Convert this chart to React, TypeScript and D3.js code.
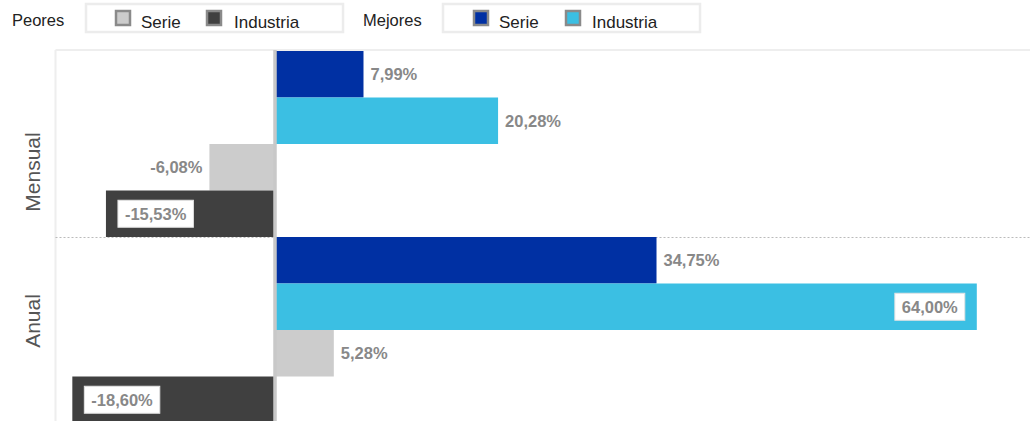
import React from "react";
import * as d3 from "d3";

const categories = ["Mensual", "Anual"];
const seriesKeys = ["mejorSerie", "mejorIndustria", "peorSerie", "peorIndustria"];
const mejoresSerie = [7.99, 34.75];
const mejoresIndustria = [20.28, 64.0];
const peoresSerie = [-6.08, 5.28];
const peoresIndustria = [-15.53, -18.6];
const xDomain = [-20, 70];

const legendGroups = [
  { title: "Peores", items: [{ label: "Serie", key: "peorSerie" }, { label: "Industria", key: "peorIndustria" }] },
  { title: "Mejores", items: [{ label: "Serie", key: "mejorSerie" }, { label: "Industria", key: "mejorIndustria" }] },
];

const COLORS: Record<string, string> = {
  mejorSerie: "#0030a3",
  mejorIndustria: "#3bbfe3",
  peorSerie: "#cccccc",
  peorIndustria: "#404040",
};

const W = 1030;
const H = 421;
const PLOT_LEFT = 55.5;
const PLOT_TOP = 50;
const LABEL_SIZE = 16.5;
const LABEL_FONT = `bold ${LABEL_SIZE}px 'Liberation Sans', Arial, sans-serif`;

function measure(text: string, font: string): number {
  if (typeof document === "undefined") return text.length * 9;
  const c = document.createElement("canvas");
  const ctx = c.getContext("2d")!;
  ctx.font = font;
  return ctx.measureText(text).width;
}

const fmt = (v: number) => v.toFixed(2).replace(".", ",") + "%";

export default function App() {
  const x = d3.scaleLinear().domain(xDomain).range([57, 1042.5]);
  const y0 = d3.scaleBand<string>().domain(categories).range([51, 423]).paddingInner(0);
  const y1 = d3.scaleBand<string>().domain(seriesKeys).range([0, y0.bandwidth()]);

  const values: Record<string, number[]> = {
    mejorSerie: mejoresSerie,
    mejorIndustria: mejoresIndustria,
    peorSerie: peoresSerie,
    peorIndustria: peoresIndustria,
  };

  const bars: any[] = [];
  categories.forEach((cat, ci) => {
    seriesKeys.forEach((k) => {
      const v = values[k][ci];
      const yy = (y0(cat) as number) + (y1(k) as number);
      bars.push({ cat, k, v, y: yy, h: y1.bandwidth() });
    });
  });

  const labelOffsets = [28, -9];

  const legendBoxes = [
    { titleX: 12, boxX: 86, boxW: 257, itemX: [116, 207], textX: [141, 234] },
    { titleX: 363, boxX: 443, boxW: 257, itemX: [474, 566], textX: [499, 592] },
  ];

  return (
    <svg
      width={W}
      height={H}
      style={{ position: "absolute", left: 0, top: 0, background: "#fff" }}
      fontFamily="'Liberation Sans', Arial, sans-serif"
    >
      {legendGroups.map((g, gi) => {
        const L = legendBoxes[gi];
        return (
          <g key={g.title}>
            <text x={L.titleX} y={26} fontSize={16.5} fill="#222">
              {g.title}
            </text>
            <rect x={L.boxX} y={4} width={L.boxW} height={28} fill="#fff" stroke="#ececec" strokeWidth={2.5} />
            {g.items.map((it, ii) => (
              <g key={it.key}>
                <rect
                  x={L.itemX[ii]}
                  y={11}
                  width={14}
                  height={14}
                  fill={COLORS[it.key]}
                  stroke="#8a8a8a"
                  strokeWidth={2.5}
                />
                <text x={L.textX[ii]} y={28} fontSize={17} fill="#222">
                  {it.label}
                </text>
              </g>
            ))}
          </g>
        );
      })}

      <line x1={PLOT_LEFT} x2={W} y1={PLOT_TOP} y2={PLOT_TOP} stroke="#eeeeee" strokeWidth={2} />
      <line x1={PLOT_LEFT} x2={PLOT_LEFT} y1={PLOT_TOP} y2={H} stroke="#eeeeee" strokeWidth={2} />

      {categories.slice(1).map((c) => (
        <line
          key={c}
          x1={PLOT_LEFT}
          x2={W}
          y1={(y0(c) as number) + 0.5}
          y2={(y0(c) as number) + 0.5}
          stroke="#bbbbbb"
          strokeWidth={1}
          strokeDasharray="2,2"
        />
      ))}

      {categories.map((c, i) => {
        const cy = (y0(c) as number) + y0.bandwidth() / 2 + labelOffsets[i];
        return (
          <text
            key={c}
            transform={`translate(40,${cy}) rotate(-90)`}
            textAnchor="middle"
            fontSize={21}
            fill="#555"
          >
            {c}
          </text>
        );
      })}

      {bars.map((b, i) => (
        <rect
          key={i}
          x={Math.min(x(0), x(b.v))}
          y={b.y}
          width={Math.abs(x(b.v) - x(0))}
          height={b.h}
          fill={COLORS[b.k]}
        />
      ))}

      <line x1={x(0) - 1} x2={x(0) - 1} y1={PLOT_TOP} y2={H} stroke="#c8c8c8" strokeWidth={3.5} />

      {bars.map((b, i) => {
        const t = fmt(b.v);
        const w = measure(t, LABEL_FONT);
        const cy = b.y + b.h / 2;
        const end = x(b.v);
        if (b.v >= 0) {
          const fits = end + 7 + w <= W - 5;
          if (fits) {
            return (
              <text key={i} x={end + 7} y={cy + 6} fontSize={LABEL_SIZE} fontWeight="bold" fill="#888">
                {t}
              </text>
            );
          }
          const bw = w + 14;
          const bx = end - 12 - bw;
          return (
            <g key={i}>
              <rect x={bx} y={cy - 13.5} width={bw} height={27} fill="#fff" stroke="#e2e2e2" strokeWidth={1} />
              <text x={bx + bw / 2} y={cy + 6} textAnchor="middle" fontSize={LABEL_SIZE} fontWeight="bold" fill="#888">
                {t}
              </text>
            </g>
          );
        } else {
          const fits = end - 7 - w >= PLOT_LEFT + 2;
          if (fits) {
            return (
              <text key={i} x={end - 7} y={cy + 6} textAnchor="end" fontSize={LABEL_SIZE} fontWeight="bold" fill="#888">
                {t}
              </text>
            );
          }
          const bw = w + 14;
          const bx = end + 12;
          return (
            <g key={i}>
              <rect x={bx} y={cy - 13.5} width={bw} height={27} fill="#fff" stroke="#e2e2e2" strokeWidth={1} />
              <text x={bx + bw / 2} y={cy + 6} textAnchor="middle" fontSize={LABEL_SIZE} fontWeight="bold" fill="#888">
                {t}
              </text>
            </g>
          );
        }
      })}
    </svg>
  );
}
